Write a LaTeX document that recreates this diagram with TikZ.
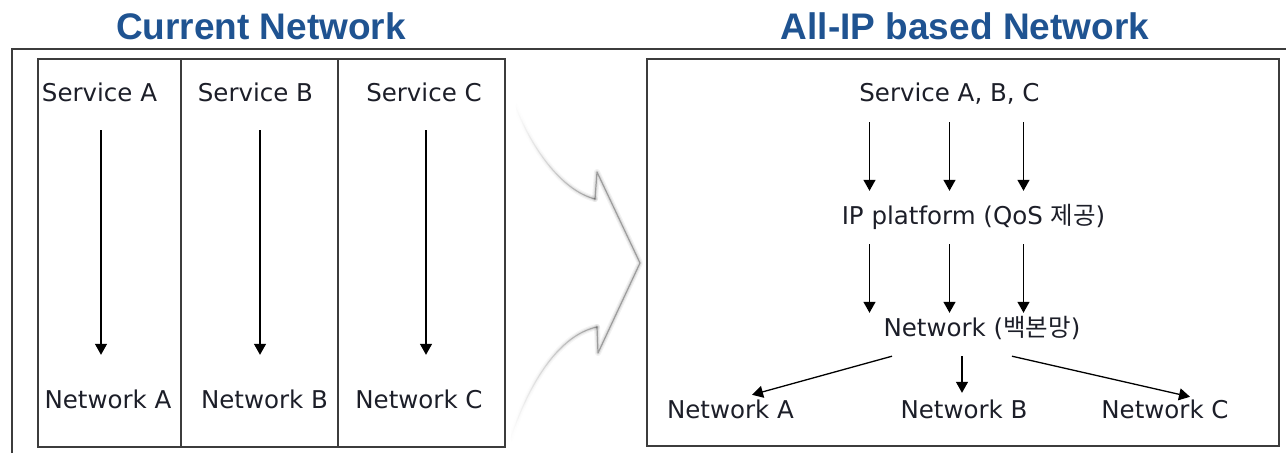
\documentclass[tikz,border=0pt]{standalone}
\usepackage{fontspec}
\setmainfont{DejaVu Sans}
\newfontfamily\hangul{Noto Sans CJK KR}
\newfontfamily\titlefont{Liberation Sans}
\usepackage{xcolor}
\usetikzlibrary{arrows.meta,fadings}
\definecolor{titleblue}{RGB}{31,83,145}
\definecolor{txt}{RGB}{28,30,40}
\definecolor{frame}{RGB}{60,60,60}

\begin{document}
\begin{tikzpicture}[x=1pt,y=-1pt,
    lbl/.style={font=\fontsize{24.5}{29}\selectfont,text=txt,inner sep=0pt,text height=18pt,text depth=5pt},
    ttl/.style={font=\titlefont\bfseries\fontsize{37}{44}\selectfont,text=titleblue,anchor=base,inner sep=0pt},
    arr/.style={-{Triangle[width=12pt,length=11pt]},line width=1.3pt},
    box/.style={draw=frame,line width=1.8pt},
    glow/.style={line width=#1,draw=black,line join=round,line cap=round}]
            \useasboundingbox (0,0) rectangle (1286,453);
            \draw[line width=1.5pt,frame] (12,453) -- (12,49) -- (1286,49);
            \node (t1) at (261,39.5) [ttl] {Current Network};
            \node (t2) at (965,39.5) [ttl] {All-IP based Network};
            % left panel
            \draw[box] (38,59) rectangle (505,447);
            \draw[box] (181,59) -- (181,447) (338,59) -- (338,447);
            \node (sa) at (99.5,95) [lbl] {Service A};
            \node (sb) at (255.5,95) [lbl] {Service B};
            \node (sc) at (424,95) [lbl] {Service C};
            \node (na) at (108,402) [lbl] {Network A};
            \node (nb) at (264.5,402) [lbl] {Network B};
            \node (nc) at (419,402) [lbl] {Network C};
            \foreach \s/\n/\dx in {sa/na/1.5,sb/nb/4.5,sc/nc/2} {
              \draw[arr,shorten <=23.5pt,shorten >=35.5pt] ([xshift=\dx pt]\s.south) -- ([xshift=\dx pt]\s.south |- \n.north);
            }
            % big arrow between panels
            \foreach \w/\o in {6pt/0.05,3.5pt/0.08,1.2pt/0.3} {
              \draw[glow=\w,opacity=\o,path fading=west] (515,105) .. controls (530,145) and (560,190) .. (595,199);
              \draw[glow=\w,opacity=\o,path fading=west] (597,327) .. controls (560,335) and (530,380) .. (510,440);
              \draw[glow=\w,opacity=\o] (595,199) -- (597,172) -- (640,263) -- (598,353) -- (597,327);
            }
            % right panel
            \draw[box] (647,59) rectangle (1279,446);
            \node (sabc) at (949.5,95) [lbl] {Service A, B, C};
            \node (ip) at (973.5,218) [lbl] {IP platform (QoS {\hangul 제공})};
            \node (net) at (982,330) [lbl] {Network ({\hangul 백본망})};
            \node (ra) at (730.5,412) [lbl] {Network A};
            \node (rb) at (964,412) [lbl] {Network B};
            \node (rc) at (1165,412) [lbl] {Network C};
            \foreach \dx in {-80,0,74} {
              \draw[arr,shorten <=15.5pt,shorten >=15.5pt] ([xshift=\dx pt]sabc.south) -- ([xshift=\dx pt]sabc.south |- ip.north);
              \draw[arr,shorten <=14.5pt,shorten >=5.5pt] ([xshift=\dx pt]sabc.south |- ip.south) -- ([xshift=\dx pt]sabc.south |- net.north);
            }
            \draw[arr] ([shift={(-90,14.5)}]net.south) -- ([shift={(21.5,-5.5)}]ra.north);
            \draw[arr] ([shift={(-20,14.5)}]net.south) -- ([shift={(-2,-7.5)}]rb.north);
            \draw[arr] ([shift={(30,14.5)}]net.south) -- ([shift={(25,-3.5)}]rc.north);
        \end{tikzpicture}
\end{document}
